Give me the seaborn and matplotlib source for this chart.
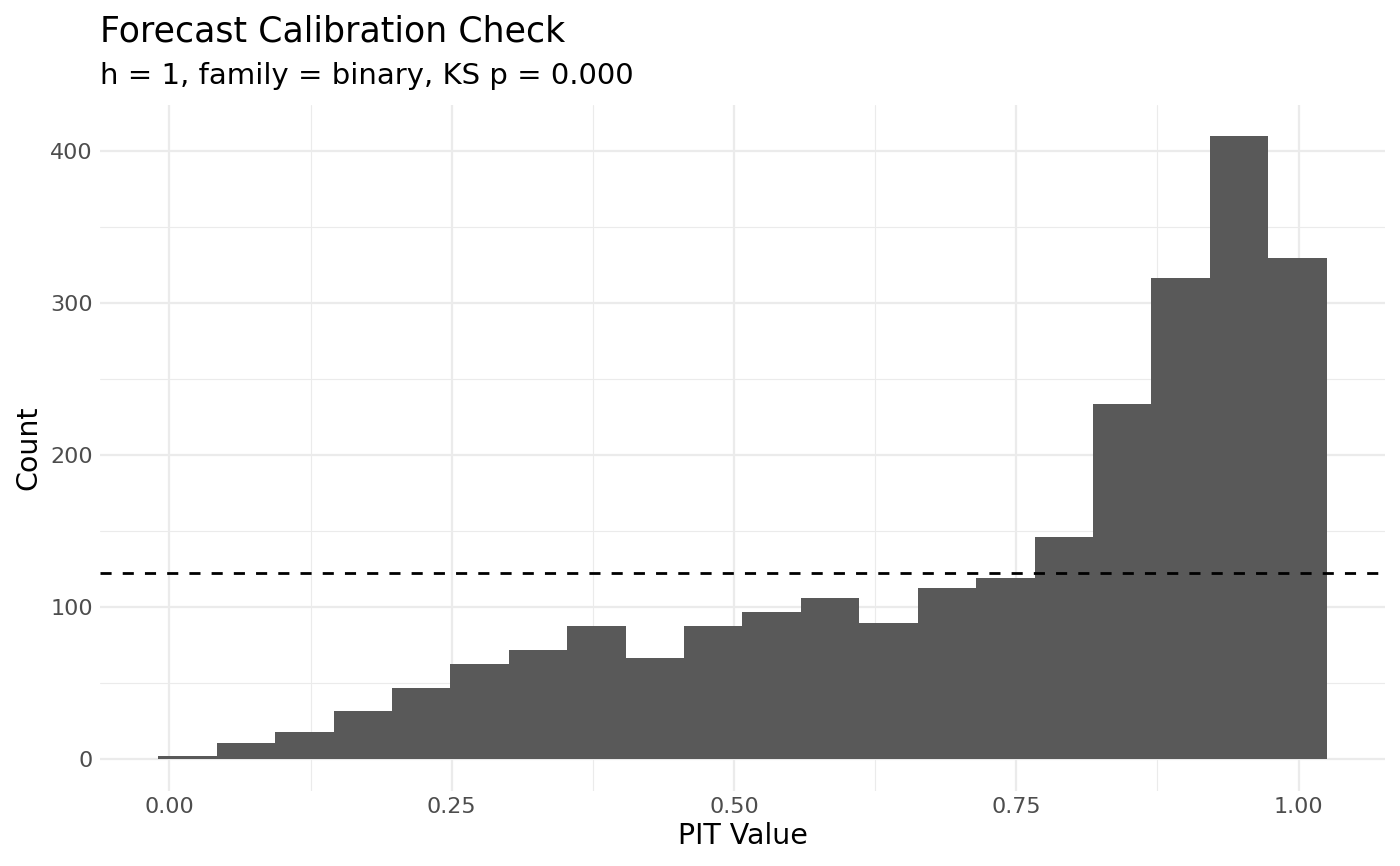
import matplotlib
matplotlib.use('Agg')
import matplotlib.pyplot as plt
import numpy as np
import pandas as pd
import seaborn as sns

# histogram counts (20 bins over the PIT range)
bin_lo = -0.0097
bin_hi = 1.0248
counts = [2, 11, 18, 32, 47, 63, 72, 88, 67, 88,
          97, 106, 90, 113, 119, 146, 234, 317, 410, 330]
x_ticks = [0.0, 0.25, 0.5, 0.75, 1.0]
x_tick_labels = ['0.00', '0.25', '0.50', '0.75', '1.00']
y_ticks = [0, 100, 200, 300, 400]

edges = np.linspace(bin_lo, bin_hi, len(counts) + 1)
df = pd.DataFrame({'pit': (edges[:-1] + edges[1:]) / 2, 'n': counts})
expected = df['n'].sum() / len(df)

sns.set_style('white')
plt.rcParams['font.family'] = ['DejaVu Sans']

fig = plt.figure(figsize=(14, 8.66), dpi=100)
ax = fig.add_axes([100 / 1400, 1 - 790.5 / 866, 1285 / 1400, (790.5 - 105) / 866])

sns.histplot(data=df, x='pit', weights='n', bins=list(edges), color='#595959',
             alpha=1, edgecolor='none', linewidth=0, ax=ax, zorder=2)
ax.axhline(expected, color='black', linewidth=2, dashes=(4, 4), zorder=3)

span = bin_hi - bin_lo
ax.set_xlim(bin_lo - 0.05 * span, bin_hi + 0.05 * span)
ax.set_ylim(-0.05 * max(counts), max(counts) * 1.05)

ax.set_xticks(x_ticks)
ax.set_xticklabels(x_tick_labels)
ax.set_xticks([0.125, 0.375, 0.625, 0.875], minor=True)
ax.set_yticks(y_ticks)
ax.set_yticks([50, 150, 250, 350], minor=True)
ax.grid(which='major', color='#EBEBEB', linewidth=1.6, zorder=0)
ax.grid(which='minor', color='#EBEBEB', linewidth=0.8, zorder=0)
ax.set_axisbelow(True)
for s in ax.spines.values():
    s.set_visible(False)
ax.tick_params(which='both', length=0, labelsize=16, labelcolor='#4D4D4D', pad=5)

ax.set_xlabel('PIT Value', fontsize=20.5, color='black')
ax.set_ylabel('Count', fontsize=20.5, color='black')
ax.xaxis.set_label_coords(0.5, -0.078)
ax.xaxis.label.set_va('baseline')
ax.yaxis.set_label_coords(-0.056, 0.5)
ax.yaxis.label.set_va('center')

fig.text(100 / 1400, 1 - 41 / 866, 'Forecast Calibration Check',
         fontsize=25, va='baseline', ha='left', color='black')
fig.text(100 / 1400, 1 - 84 / 866, 'h = 1, family = binary, KS p = 0.000',
         fontsize=21, va='baseline', ha='left', color='black')

fig.savefig('out.png', dpi=100, facecolor='white')
